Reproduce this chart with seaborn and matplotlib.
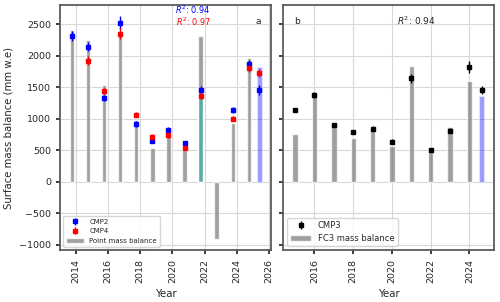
import matplotlib
matplotlib.use("Agg")
import matplotlib.pyplot as plt
import numpy as np
import seaborn as sns
from matplotlib.patches import Patch

# Panel a: point mass balance (hydrological years) and CMP2 / CMP4 models
years_a = [2013.75, 2014.75, 2015.75, 2016.75, 2017.75, 2018.75, 2019.75,
           2020.75, 2021.75, 2022.75, 2023.75, 2024.75]
point_mb = [2405, 2260, 1540, 2390, 985, 540, 725, 500, 2310, -905, 930, 1970]
teal_year = [2021.75]
teal_mb = [1370]
last_year_a = [2025.4]
last_mb_a = [1820]

cmp_years = [2013.75, 2014.75, 2015.75, 2016.75, 2017.75, 2018.75, 2019.75,
             2020.75, 2021.75, 2023.75, 2024.75, 2025.4]
cmp2 = [2320, 2145, 1330, 2525, 920, 655, 820, 615, 1465, 1140, 1870, 1455]
cmp2_err = [80, 70, 50, 105, 45, 45, 45, 40, 60, 45, 60, 80]
cmp4 = [np.nan, 1925, 1440, 2355, 1065, 720, 750, 540, 1370, 1000, 1810, 1730]
cmp4_err = [np.nan, 70, 50, 90, 40, 45, 45, 40, 50, 40, 70, 70]

# Panel b: FC3 mass balance and CMP3 model
years_b = [2015, 2016, 2017, 2018, 2019, 2020, 2021, 2022, 2023, 2024]
fc3_mb = [755, 1400, 910, 700, 820, 575, 1845, 480, 875, 1600]
last_year_b = [2024.63]
last_mb_b = [1370]

cmp3_years = [2015, 2016, 2017, 2018, 2019, 2020, 2021, 2022, 2023, 2024, 2024.63]
cmp3 = [1140, 1385, 905, 790, 845, 640, 1645, 500, 815, 1820, 1460]
cmp3_err = [35, 50, 35, 35, 35, 35, 75, 30, 45, 95, 60]

sns.set_theme(style="ticks")
plt.rcParams["font.family"] = ["DejaVu Sans"]
plt.rcParams["font.size"] = 6.5
plt.rcParams["axes.edgecolor"] = "#555555"

fig, (ax1, ax2) = plt.subplots(1, 2, figsize=(5, 3.02), dpi=100, sharey=True)
fig.subplots_adjust(left=0.12, right=0.988, bottom=0.172, top=0.983, wspace=0.055)

bar_w = 0.28
for ax in (ax1, ax2):
    ax.grid(True, color="#d8d8d8", linewidth=0.8)
    ax.set_axisbelow(True)

# panel a bars
sns.barplot(x=years_a, y=point_mb, native_scale=True, width=bar_w, color="gray",
            alpha=0.75, saturation=1, errorbar=None, ax=ax1)
sns.barplot(x=teal_year, y=teal_mb, native_scale=True, width=bar_w, color="#5aaaa6",
            saturation=1, errorbar=None, ax=ax1)
sns.barplot(x=last_year_a, y=last_mb_a, native_scale=True, width=bar_w, color="blue",
            alpha=0.4, saturation=1, errorbar=None, ax=ax1)

e2 = ax1.errorbar(cmp_years, cmp2, yerr=cmp2_err, fmt="s", color="blue", ms=3.5,
                  elinewidth=1, zorder=3)
e4 = ax1.errorbar(cmp_years, cmp4, yerr=cmp4_err, fmt="s", color="red", ms=3.5,
                  elinewidth=1, zorder=3)

# panel b bars
sns.barplot(x=years_b, y=fc3_mb, native_scale=True, width=bar_w, color="gray",
            alpha=0.75, saturation=1, errorbar=None, ax=ax2)
sns.barplot(x=last_year_b, y=last_mb_b, native_scale=True, width=bar_w, color="blue",
            alpha=0.4, saturation=1, errorbar=None, ax=ax2)
e3 = ax2.errorbar(cmp3_years, cmp3, yerr=cmp3_err, fmt="s", color="black", ms=3.5,
                  elinewidth=1, zorder=3)

ax1.set_xticks([2014, 2016, 2018, 2020, 2022, 2024, 2026])
ax2.set_xticks([2016, 2018, 2020, 2022, 2024])
ax1.set_yticks([-1000, -500, 0, 500, 1000, 1500, 2000, 2500])
for ax in (ax1, ax2):
    ax.tick_params(axis="x", labelrotation=90, labelsize=6.8, length=3)
    ax.tick_params(axis="y", labelsize=6.8, length=3)
    ax.set_xlabel("Year", fontsize=7.4)
    for s in ax.spines.values():
        s.set_visible(True)
ax1.set_ylabel("Surface mass balance (mm w.e)", fontsize=7.3)
ax2.set_ylabel("")
ax2.tick_params(axis="y", labelleft=False)

ax1.text(0.63, 0.979, "$R^2$: 0.94", color="blue", transform=ax1.transAxes,
         ha="center", va="center", fontsize=5.9)
ax1.text(0.63, 0.931, "$R^2$: 0.97", color="red", transform=ax1.transAxes,
         ha="center", va="center", fontsize=5.9)
ax1.text(0.937, 0.934, "a", transform=ax1.transAxes, ha="center", va="center", fontsize=6.5)
ax2.text(0.065, 0.934, "b", transform=ax2.transAxes, ha="center", va="center", fontsize=6.5)
ax2.text(0.63, 0.934, "$R^2$: 0.94", transform=ax2.transAxes, ha="center", va="center",
         fontsize=6.5)

h_pmb = Patch(facecolor="gray", alpha=0.75)
ax1.legend([e2, e4, h_pmb], ["CMP2", "CMP4", "Point mass balance"],
           loc="lower left", fontsize=5, handlelength=2.5, borderpad=0.4, labelspacing=0.5)

h_fc3 = Patch(facecolor="gray", alpha=0.75)
ax2.legend([e3, h_fc3], ["CMP3", "FC3 mass balance"], loc="lower left",
           fontsize=6, handlelength=2.5, borderpad=0.4, labelspacing=0.4)

fig.savefig("out.png", dpi=100)
